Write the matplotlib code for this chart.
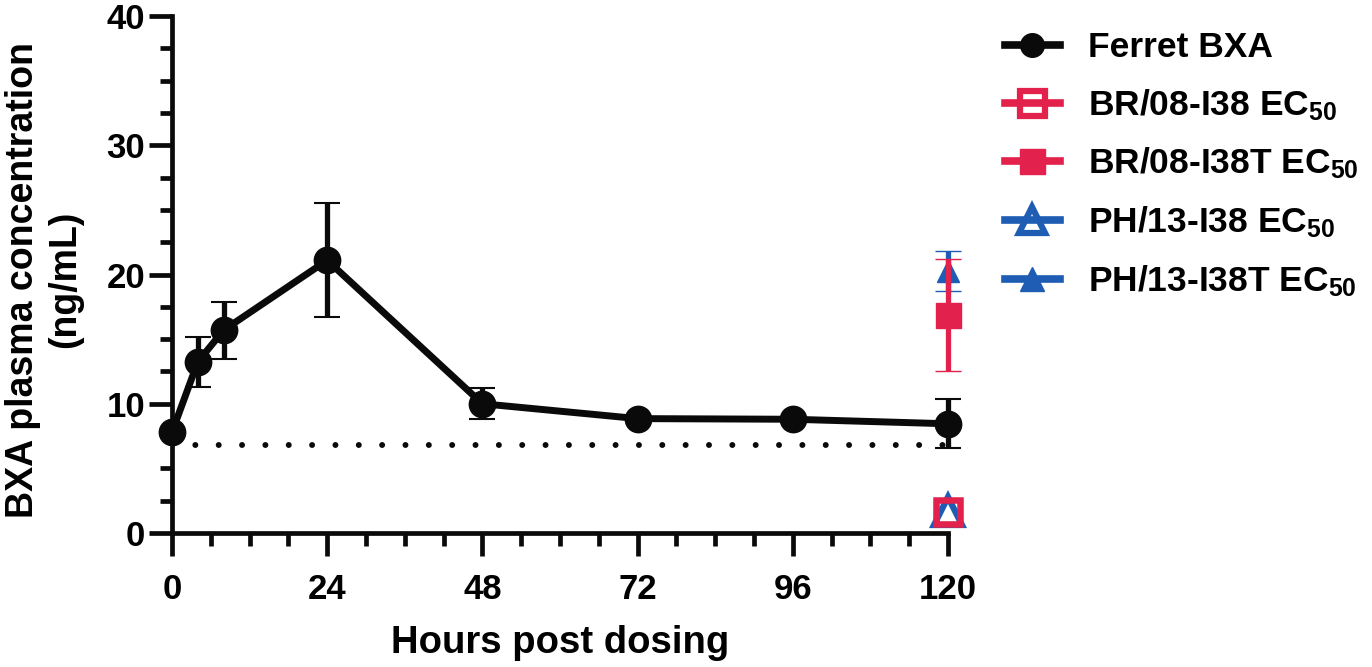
import matplotlib
matplotlib.use("Agg")
import matplotlib.pyplot as plt
from matplotlib.lines import Line2D

plt.rcParams['font.family'] = ['Liberation Sans', 'DejaVu Sans']
plt.rcParams['font.weight'] = 'bold'
plt.rcParams['mathtext.fontset'] = 'custom'
plt.rcParams['mathtext.rm'] = 'Liberation Sans:bold'
plt.rcParams['mathtext.bf'] = 'Liberation Sans:bold'
plt.rcParams['mathtext.default'] = 'rm'
plt.rcParams['lines.scale_dashes'] = False

# ---- data ----
hours = [0, 4, 8, 24, 48, 72, 96, 120]
bxa_mean = [7.8, 13.25, 15.7, 21.1, 10.0, 8.85, 8.8, 8.45]
bxa_sd = [0.2, 1.95, 2.2, 4.4, 1.2, 0.2, 0.2, 1.9]

ec50_x = [120]
br_i38_mean = [1.6]
br_i38t_mean = [16.85]
br_i38t_sd = [4.35]
ph_i38_mean = [1.7]
ph_i38t_mean = [20.3]
ph_i38t_sd = [1.55]

threshold = 6.8

series_labels = ['Ferret BXA', 'BR/08-I38 EC$_{50}$', 'BR/08-I38T EC$_{50}$',
                 'PH/13-I38 EC$_{50}$', 'PH/13-I38T EC$_{50}$']
xticks = [0, 24, 48, 72, 96, 120]
yticks = [0, 10, 20, 30, 40]

RED = '#E2214C'
BLUE = '#1F5CB3'
BLACK = '#0a0a0a'

fig = plt.figure(figsize=(13.72, 6.67), dpi=100)
ax = fig.add_axes([172/1372, 1-533/667, (948-172)/1372, (533-16)/667])

# dotted threshold line
ax.plot([hours[0], hours[-1]], [threshold, threshold], color=BLACK, lw=4.3,
        linestyle=(0, (0.01, 16.8)), dash_capstyle='round', zorder=2)

# Ferret BXA
ax.errorbar(hours, bxa_mean, yerr=bxa_sd, color=BLACK, lw=5, marker='o', ms=18.5,
            mew=1.5, elinewidth=3.8, capsize=9.7, capthick=3.8, zorder=5, clip_on=False)

# EC50 markers
ax.errorbar(ec50_x, ph_i38t_mean, yerr=ph_i38t_sd, color=BLUE, ls='none', marker='^',
            ms=16, mew=1, elinewidth=3.8, capsize=9.7, capthick=3.8, zorder=6, clip_on=False)
ax.errorbar(ec50_x, br_i38t_mean, yerr=br_i38t_sd, color=RED, ls='none', marker='s',
            ms=18, mew=1, elinewidth=3.8, capsize=9.7, capthick=3.8, zorder=7, clip_on=False)
ax.plot(ec50_x, ph_i38_mean, ls='none', marker='^', ms=20, mfc='none', mec=BLUE,
        mew=4.5, zorder=8, clip_on=False)
ax.plot(ec50_x, br_i38_mean, ls='none', marker='s', ms=17, mfc='none', mec=RED,
        mew=4.7, zorder=9, clip_on=False)

ax.set_xlim(0, 120)
ax.set_ylim(0, 40)
ax.set_xticks(xticks)
ax.set_xticks(range(0, 121, 6), minor=True)
ax.set_yticks(yticks)
ax.set_yticks([v * 2.5 for v in range(17)], minor=True)
ax.tick_params(axis='both', which='major', length=16.5, width=3.4, labelsize=25, color=BLACK)
ax.tick_params(axis='both', which='minor', length=9, width=3.4, color=BLACK)
ax.tick_params(axis='x', which='major', pad=12)
ax.tick_params(axis='y', which='major', pad=3)
for lab in ax.get_xticklabels() + ax.get_yticklabels():
    lab.set_fontweight('bold')

for s in ['top', 'right']:
    ax.spines[s].set_visible(False)
for s in ['left', 'bottom']:
    ax.spines[s].set_linewidth(3.4)
    ax.spines[s].set_color(BLACK)

ax.set_xlabel('Hours post dosing', fontsize=27.5, fontweight='bold', labelpad=14)
ax.set_ylabel('BXA plasma concentration\n(ng/mL)', fontsize=27, fontweight='bold',
              linespacing=1.2)
ax.yaxis.set_label_coords(-0.115, 0.49)

handles = [
    Line2D([], [], color=BLACK, lw=5.5, marker='o', ms=17),
    Line2D([], [], color=RED, lw=5.5, marker='s', ms=18, mfc='none', mew=4.5),
    Line2D([], [], color=RED, lw=5.5, marker='s', ms=18),
    Line2D([], [], color=BLUE, lw=5.5, marker='^', ms=19, mfc='none', mew=4.5),
    Line2D([], [], color=BLUE, lw=5.5, marker='^', ms=17),
]
leg = fig.legend(handles, series_labels, loc='upper left', bbox_to_anchor=(1005/1372, 1-31/667),
                 frameon=False, prop={'size': 25.5, 'weight': 'bold'}, handlelength=1.55,
                 handletextpad=0.8, labelspacing=0.65, borderaxespad=0, borderpad=0)

fig.savefig('out.png', dpi=100, facecolor='white')
